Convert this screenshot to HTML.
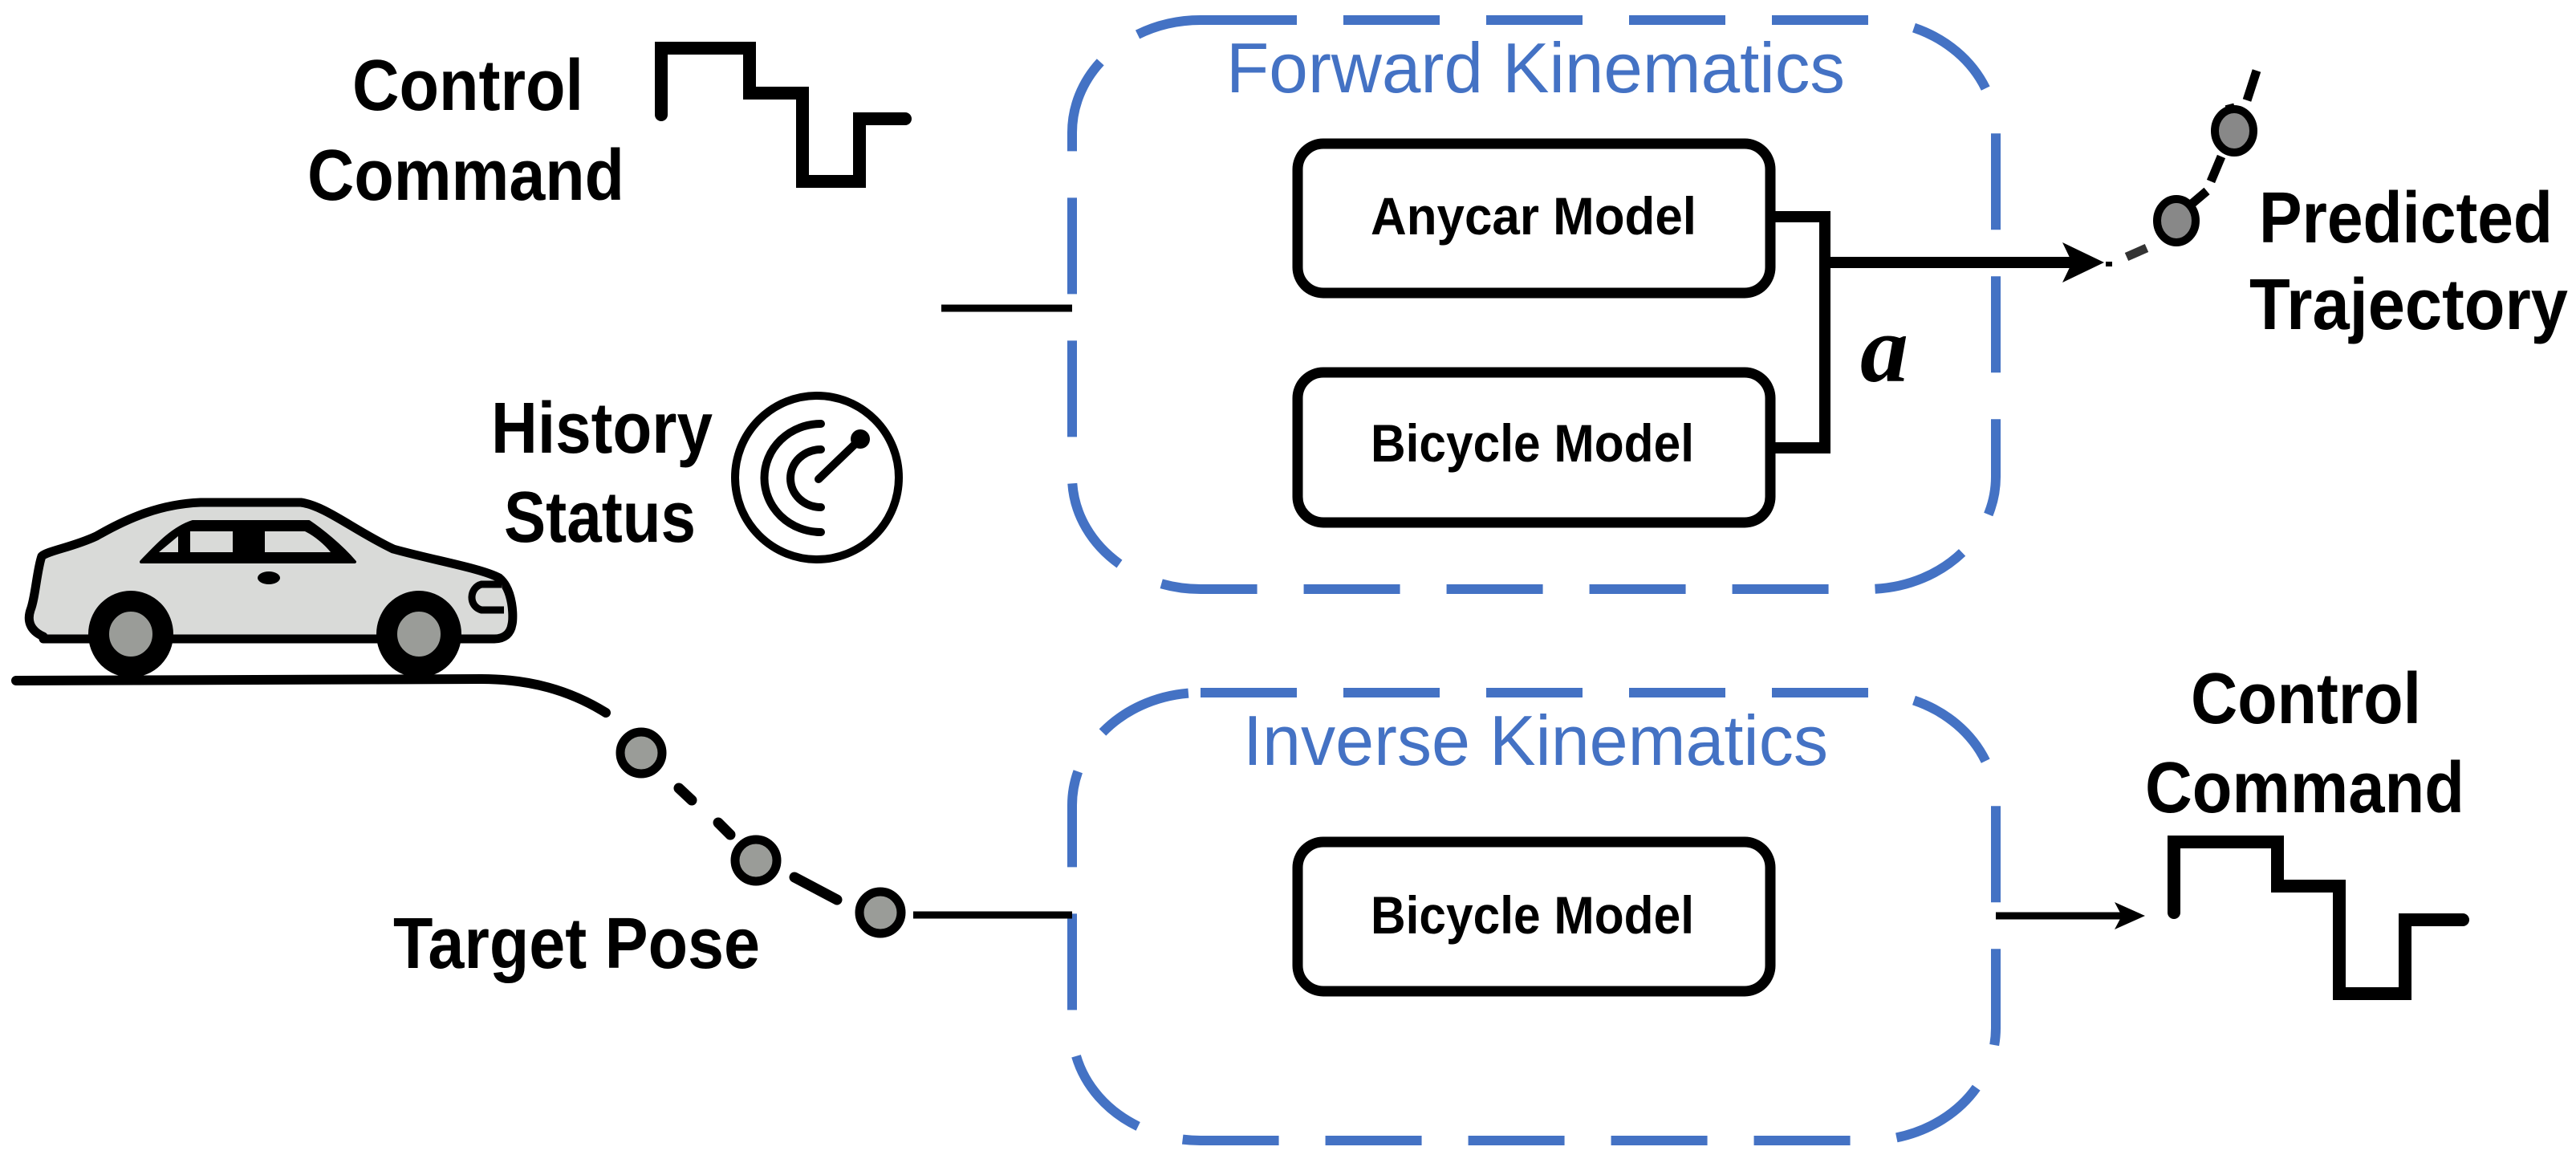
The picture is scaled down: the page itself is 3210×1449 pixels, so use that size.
<!DOCTYPE html>
<html><head><meta charset="utf-8"><style>html,body{margin:0;padding:0;background:#fff}svg{display:block}</style></head>
<body>
<svg width="3210" height="1449" viewBox="0 0 3210 1449" xmlns="http://www.w3.org/2000/svg">
<g font-family="Liberation Sans, sans-serif" font-weight="bold" fill="#000">
<text x="439" y="137" font-size="90" textLength="288" lengthAdjust="spacingAndGlyphs">Control</text>
<text x="383" y="249" font-size="90" textLength="395" lengthAdjust="spacingAndGlyphs">Command</text>
<text x="612" y="564" font-size="90" textLength="276" lengthAdjust="spacingAndGlyphs">History</text>
<text x="628" y="675" font-size="90" textLength="239" lengthAdjust="spacingAndGlyphs">Status</text>
<text x="490" y="1206" font-size="90" textLength="457" lengthAdjust="spacingAndGlyphs">Target Pose</text>
<text x="2815" y="302" font-size="90" textLength="366" lengthAdjust="spacingAndGlyphs">Predicted</text>
<text x="2803" y="410" font-size="90" textLength="397" lengthAdjust="spacingAndGlyphs">Trajectory</text>
<text x="2730" y="901" font-size="90" textLength="287" lengthAdjust="spacingAndGlyphs">Control</text>
<text x="2673" y="1012" font-size="90" textLength="398" lengthAdjust="spacingAndGlyphs">Command</text>
<text x="1708" y="292" font-size="66" textLength="406" lengthAdjust="spacingAndGlyphs">Anycar Model</text>
<text x="1708" y="575" font-size="66" textLength="403" lengthAdjust="spacingAndGlyphs">Bicycle Model</text>
<text x="1708" y="1163" font-size="66" textLength="403" lengthAdjust="spacingAndGlyphs">Bicycle Model</text>
</g>
<g font-family="Liberation Sans, sans-serif" fill="#4472C4">
<text x="1528" y="115" font-size="88" textLength="771" lengthAdjust="spacingAndGlyphs">Forward Kinematics</text>
<text x="1549" y="953" font-size="88" textLength="729" lengthAdjust="spacingAndGlyphs">Inverse Kinematics</text>
</g>
<text x="2318" y="475" font-family="Liberation Serif, serif" font-style="italic" font-weight="bold" font-size="120">a</text>

<g fill="none" stroke="#4472C4" stroke-width="12" stroke-dasharray="120 58">
<rect x="1336" y="25" width="1151" height="709" rx="160" ry="140"/>
<rect x="1336" y="863" width="1151" height="558" rx="160" ry="140"/>
</g>

<g fill="none" stroke="#000" stroke-width="13">
<rect x="1617" y="179" width="589" height="186" rx="32"/>
<rect x="1617" y="464" width="589" height="187" rx="32"/>
<rect x="1617" y="1049" width="589" height="186" rx="32"/>
</g>
<g fill="none" stroke="#000" stroke-width="14">
<polyline points="2206,270 2274,270 2274,558 2206,558"/>
<line x1="2274" y1="327" x2="2590" y2="327"/>
</g>
<path d="M2622,327 L2570,302 L2582,327 L2570,352 Z" fill="#000"/>
<g stroke="#000" stroke-width="9" fill="none">
<line x1="1173" y1="384" x2="1336" y2="384"/>
<line x1="1138" y1="1140" x2="1336" y2="1140"/>
<line x1="2487" y1="1141" x2="2650" y2="1141"/>
</g>
<path d="M2673,1141 L2635,1124 L2644,1141 L2635,1158 Z" fill="#000"/>

<g fill="none" stroke="#000" stroke-width="16" stroke-linecap="round" stroke-linejoin="miter">
<polyline points="824,143 824,60 934,60 934,116 1000,116 1000,226 1071,226 1071,148 1128,148"/>
<polyline points="2709,1137 2709,1049 2838,1049 2838,1104 2915,1104 2915,1238 2997,1238 2997,1146 3069,1146"/>
</g>

<g fill="none" stroke="#000" stroke-width="10" stroke-linecap="round">
<circle cx="1018" cy="595" r="102"/>
<path d="M1023,528 A70,67 0 1 0 1023,663"/>
<path d="M1023,560 A38,36 0 1 0 1023,632"/>
<line x1="1020" y1="597" x2="1070" y2="549"/>
</g>
<circle cx="1072" cy="547" r="12" fill="#000"/>

<g stroke="#000" stroke-width="11" stroke-linejoin="round">
<path d="M54,793 C36,785 34,772 38,760 C44,745 46,710 52,693 C60,686 90,682 120,668 C160,645 200,628 250,626 L375,626 C405,630 440,660 490,684 C540,698 600,708 622,720 C640,735 640,770 638,778 C636,790 628,796 616,796 L54,796 Z" fill="#d9dad8"/>
<path d="M176,700 C195,680 215,658 240,650 L385,650 C400,660 425,680 442,700 Z" fill="#000" stroke-width="4"/>
</g>
<g fill="#d9dad8">
<path d="M198,688 L222,668 L222,688 Z"/>
<rect x="237" y="662" width="53" height="26"/>
<path d="M330,662 L380,662 C392,668 404,678 412,688 L330,688 Z"/>
</g>
<ellipse cx="335" cy="720" rx="14" ry="8" fill="#000"/>
<path d="M625,728 L600,728 C585,732 583,755 600,760 L628,760" fill="#d9dad8" stroke="#000" stroke-width="9"/>
<g stroke="#000" stroke-width="26">
<ellipse cx="163" cy="790" rx="40" ry="41" fill="#9a9c98"/>
<ellipse cx="522" cy="790" rx="40" ry="41" fill="#9a9c98"/>
</g>
<path d="M20,848 L600,846 C660,846 710,860 755,888" fill="none" stroke="#000" stroke-width="12" stroke-linecap="round"/>
<g stroke="#000" stroke-width="13" stroke-linecap="round">
<line x1="846" y1="982" x2="862" y2="997"/>
<line x1="895" y1="1025" x2="910" y2="1040"/>
<line x1="990" y1="1093" x2="1043" y2="1121"/>
</g>
<g fill="#9a9c98" stroke="#000" stroke-width="11">
<ellipse cx="799" cy="938" rx="26" ry="26"/>
<ellipse cx="942" cy="1072" rx="26" ry="26"/>
<ellipse cx="1097" cy="1137" rx="26" ry="26"/>
</g>
<g stroke="#000" stroke-width="11" stroke-linecap="butt">
<line x1="2628" y1="326" x2="2628" y2="332" stroke-width="8"/>
<line x1="2650" y1="320" x2="2675" y2="309" stroke="#333"/>
<line x1="2730" y1="255" x2="2750" y2="238"/>
<line x1="2755" y1="226" x2="2768" y2="195"/>
<line x1="2778" y1="130" x2="2782" y2="145"/>
<line x1="2800" y1="125" x2="2812" y2="88"/>
</g>
<g fill="#888" stroke="#000" stroke-width="10">
<ellipse cx="2784" cy="163" rx="24" ry="27"/>
<ellipse cx="2712" cy="275" rx="24" ry="27"/>
</g>
</svg>
</body></html>
